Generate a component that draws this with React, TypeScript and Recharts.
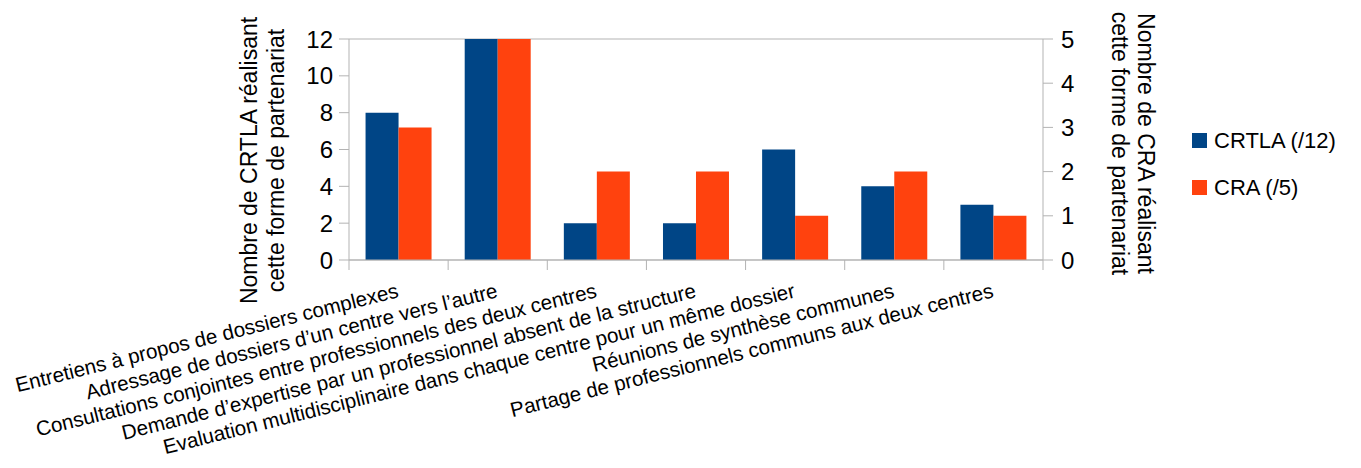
import React from "react";
import { BarChart, Bar, XAxis, YAxis, CartesianGrid, Legend } from "recharts";

const categories = [
  "Entretiens à propos de dossiers complexes",
  "Adressage de dossiers d’un centre vers l’autre",
  "Consultations conjointes entre professionnels des deux centres",
  "Demande d’expertise par un professionnel absent de la structure",
  "Evaluation multidisciplinaire dans chaque centre pour un même dossier",
  "Réunions de synthèse communes",
  "Partage de professionnels communs aux deux centres",
];
const crtla = [8, 12, 2, 2, 6, 4, 3];
const cra = [3, 5, 2, 2, 1, 2, 1];
const leftTicks = [0, 2, 4, 6, 8, 10, 12];
const rightTicks = [0, 1, 2, 3, 4, 5];

const data = categories.map((name, i) => ({ name, crtla: crtla[i], cra: cra[i] }));

const W = 1361;
const H = 468;
const PLOT_LEFT = 349;
const PLOT_RIGHT = 1043;
const PLOT_TOP = 39;
const PLOT_BOTTOM = 260;
const BAND = (PLOT_RIGHT - PLOT_LEFT) / categories.length;

const FONT = "'Liberation Sans', Arial, sans-serif";
const GRID = "#b3b3b3";
const BLUE = "#004586";
const ORANGE = "#ff420e";

function CategoryTick(props: any) {
  const { x, payload, index } = props;
  const y0 = PLOT_BOTTOM;
  const left = x - BAND / 2;
  const tx = x + 1;
  const ty = y0 + 37;
  return (
    <g>
      <line x1={left} y1={y0} x2={left} y2={y0 + 10} stroke={GRID} />
      {index === categories.length - 1 && (
        <line x1={x + BAND / 2} y1={y0} x2={x + BAND / 2} y2={y0 + 10} stroke={GRID} />
      )}
      <text
        x={tx}
        y={ty}
        transform={`rotate(-14, ${tx}, ${ty})`}
        textAnchor="end"
        fontSize={20.6}
        fontFamily={FONT}
        fill="#000"
      >
        {payload.value}
      </text>
    </g>
  );
}

function LeftTitle({ viewBox }: any) {
  const cx = viewBox.x + viewBox.width - 100;
  const cy = viewBox.y + viewBox.height / 2 + 11;
  return (
    <text
      transform={`rotate(-90, ${cx}, ${cy})`}
      x={cx}
      y={cy}
      textAnchor="middle"
      fontSize={23}
      fontFamily={FONT}
      fill="#000"
    >
      <tspan x={cx} dy="0.35em">Nombre de CRTLA réalisant</tspan>
      <tspan x={cx} dy="1.15em">cette forme de partenariat</tspan>
    </text>
  );
}

function RightTitle({ viewBox }: any) {
  const cx = viewBox.x + 103;
  const cy = viewBox.y + viewBox.height / 2 - 6;
  return (
    <text
      transform={`rotate(90, ${cx}, ${cy})`}
      x={cx}
      y={cy}
      textAnchor="middle"
      fontSize={23}
      fontFamily={FONT}
      fill="#000"
    >
      <tspan x={cx} dy="0.35em">Nombre de CRA réalisant</tspan>
      <tspan x={cx} dy="1.15em">cette forme de partenariat</tspan>
    </text>
  );
}

function LegendContent() {
  const items = [
    { label: "CRTLA (/12)", color: BLUE },
    { label: "CRA (/5)", color: ORANGE },
  ];
  return (
    <div style={{ fontFamily: FONT, fontSize: 22, color: "#000" }}>
      {items.map((it) => (
        <div key={it.label} style={{ display: "flex", alignItems: "center", height: 47 }}>
          <span style={{ width: 15, height: 15, background: it.color, marginRight: 7, display: "inline-block" }} />
          <span>{it.label}</span>
        </div>
      ))}
    </div>
  );
}

export default function App() {
  return (
    <div style={{ position: "absolute", left: 0, top: 0, width: W, height: H, background: "#fff" }}>
      <BarChart
        width={W}
        height={H}
        data={data}
        margin={{ top: PLOT_TOP, right: 0, bottom: 0, left: 0 }}
        barCategoryGap="16.7%"
        barGap={0}
      >
        <CartesianGrid vertical={false} stroke={GRID} />
        <XAxis
          dataKey="name"
          height={H - PLOT_BOTTOM}
          axisLine={{ stroke: GRID }}
          tickLine={false}
          interval={0}
          tick={<CategoryTick />}
        />
        <YAxis
          yAxisId="left"
          width={PLOT_LEFT}
          domain={[0, 12]}
          ticks={leftTicks}
          axisLine={{ stroke: GRID }}
          tickLine={{ stroke: GRID }}
          tickSize={10}
          tickMargin={6}
          tick={{ fontSize: 24, fill: "#000", fontFamily: FONT }}
          label={<LeftTitle />}
        />
        <YAxis
          yAxisId="right"
          orientation="right"
          width={W - PLOT_RIGHT}
          domain={[0, 5]}
          ticks={rightTicks}
          axisLine={{ stroke: GRID }}
          tickLine={{ stroke: GRID }}
          tickSize={10}
          tickMargin={8}
          tick={{ fontSize: 24, fill: "#000", fontFamily: FONT }}
          label={<RightTitle />}
        />
        <Legend
          layout="vertical"
          align="center"
          verticalAlign="middle"
          content={<LegendContent />}
          wrapperStyle={{ left: 1192, top: 117, width: 170 }}
        />
        <Bar yAxisId="left" dataKey="crtla" name="CRTLA (/12)" fill={BLUE} isAnimationActive={false} />
        <Bar yAxisId="right" dataKey="cra" name="CRA (/5)" fill={ORANGE} isAnimationActive={false} />
      </BarChart>
    </div>
  );
}
